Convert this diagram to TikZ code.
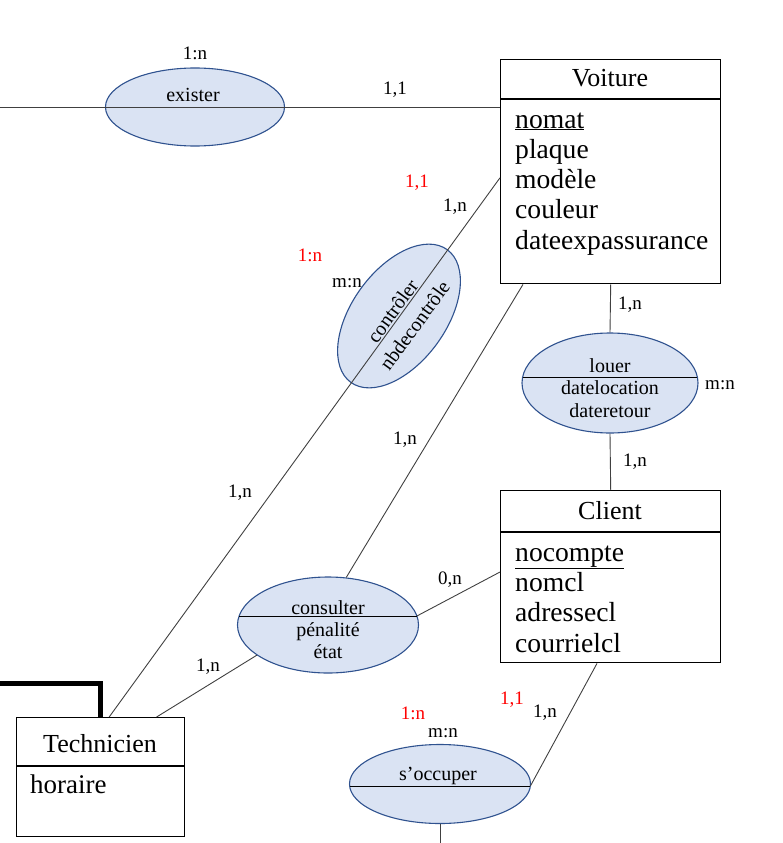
\documentclass[tikz,border=0pt]{standalone}
\usepackage{fontspec}
\setmainfont{Liberation Serif}
\usetikzlibrary{shapes.geometric,calc}
\definecolor{ellF}{HTML}{DAE3F3}
\definecolor{ellB}{HTML}{2F528F}
\definecolor{lnkC}{HTML}{404040}
\begin{document}
\begin{tikzpicture}[x=1pt,y=-1pt,
 ent/.style={draw=black, line width=1.4pt, inner sep=0pt, fill=white},
 assoc/.style={ellipse, draw=ellB, line width=1.1pt, fill=ellF, inner sep=0pt},
 lnk/.style={draw=lnkC, line width=0.9pt},
 chord/.style={draw=black, line width=0.9pt},
 ttl/.style={font=\fontsize{26}{28}\selectfont, anchor=base, inner sep=0pt},
 attr/.style={font=\fontsize{27.6}{29}\selectfont, anchor=base west, inner sep=0pt},
 etxt/.style={font=\fontsize{20}{22}\selectfont, anchor=base, inner sep=0pt},
 rtxt/.style={font=\fontsize{20}{22}\selectfont, inner sep=0pt, rotate=54},
 card/.style={font=\fontsize{19}{20}\selectfont, inner sep=0pt},
 cardr/.style={card, text=red}]
\useasboundingbox (0,0) rectangle (783,843);

% entities
\node[ent, minimum width=220pt, minimum height=224pt, anchor=north west] (voiture) at (500,59) {};
\node[ent, minimum width=220pt, minimum height=172pt, anchor=north west] (client) at (500,490) {};
\node[ent, minimum width=168pt, minimum height=119pt, anchor=north west] (tech) at (16,717) {};
\draw[line width=1.4pt] ($(voiture.north west)+(0,40)$) -- ($(voiture.north east)+(0,40)$);
\draw[line width=1.4pt] ($(client.north west)+(0,42)$) -- ($(client.north east)+(0,42)$);
\draw[line width=1.4pt] ($(tech.north west)+(0,49)$) -- ($(tech.north east)+(0,49)$);

% associations
\node[assoc, minimum width=179pt, minimum height=78pt] (ex) at (195,107) {};
\node[assoc, minimum width=164pt, minimum height=94pt, rotate=54] (ct) at (399,316) {};
\node[assoc, minimum width=176pt, minimum height=100pt] (lo) at (610,383) {};
\node[assoc, minimum width=181pt, minimum height=96pt] (cons) at (328,625) {};
\node[assoc, minimum width=181pt, minimum height=79pt] (so) at (440,784) {};

% chords
\draw[chord] ($(lo.center)+(-87.4,-6)$) coordinate (lo1) -- ($(lo.center)+(87.4,-6)$) coordinate (lo2);
\draw[chord] ($(cons.center)+(-88.9,-9)$) coordinate (cs1) -- ($(cons.center)+(88.9,-9)$) coordinate (cs2);
\draw[chord] ($(so.center)+(-90.4,2)$) coordinate (so1) -- ($(so.center)+(90.4,2)$) coordinate (so2);

% connectors
\coordinate (L0) at (0,107);
\coordinate (T0) at (0,683);
\coordinate (B0) at (440,843);
\draw[lnk] (L0) -- (voiture.west |- L0);
\draw[lnk] ($(voiture.north west)!0.527!(voiture.south west)$) -- ($(tech.north west)!0.55!(tech.north east)$);
\draw[lnk] (voiture.south) -- (lo.north);
\draw[lnk] (lo.south) -- (client.north);
\draw[lnk] (cons.69) -- ($(voiture.south west)+(23,0)$);
\draw[lnk] (cs2) -- ($(client.north west)+(0,82)$);
\draw[lnk] ($(tech.north west)!0.83!(tech.north east)$) -- (cons.203);
\draw[lnk] (so2) -- ($(client.south west)+(97,0)$);
\draw[lnk] (so.south) -- (B0);
\draw[line width=5pt] (T0) -- (tech.north |- T0) -- (tech.north);

% entity texts
\node[ttl] (vT) at (610,86) {Voiture};
\node[attr] (v1) at (515,128) {\underline{nomat}};
\node[attr] (v2) at (515,158) {plaque};
\node[attr] (v3) at (515,188.5) {modèle};
\node[attr] (v4) at (515,218.5) {couleur};
\node[attr] (v5) at (515,249) {dateexpassurance};
\node[ttl] (cT) at (610,519) {Client};
\node[attr] (c1) at (515,561) {\underline{nocompte}};
\node[attr] (c2) at (515,591) {nomcl};
\node[attr] (c3) at (515,621.5) {adressecl};
\node[attr] (c4) at (515,652) {courrielcl};
\node[ttl] (tT) at (100,752) {Technicien};
\node[attr, font=\fontsize{27}{29}\selectfont] (t1) at (30,793) {horaire};

% association texts
\node[etxt] (exT) at (193,101) {exister};
\node[rtxt] (ctT1) at (392.5,311) {contrôler};
\node[rtxt] (ctT2) at (414.5,325.5) {nbdecontrôle};
\node[etxt] (loT1) at (610,372) {louer};
\node[etxt] (loT2) at (610,394) {datelocation};
\node[etxt] (loT3) at (610,417) {dateretour};
\node[etxt] (csT1) at (328,614) {consulter};
\node[etxt] (csT2) at (328,636) {pénalité};
\node[etxt] (csT3) at (328,658) {état};
\node[etxt] (soT) at (438,780) {s’occuper};

% cardinalities
\node[card] (k1) at (195,53) {1:n};
\node[card] (k2) at (395,90) {1,1};
\node[cardr] (k3) at (417,183) {1,1};
\node[card] (k4) at (455,207) {1,n};
\node[cardr] (k5) at (310,255) {1:n};
\node[card] (k6) at (347,283) {m:n};
\node[card] (k7) at (630,305) {1,n};
\node[card] (k8) at (720,385) {m:n};
\node[card] (k9) at (635,462) {1,n};
\node[card] (k10) at (405,440) {1,n};
\node[card] (k11) at (240,493) {1,n};
\node[card] (k12) at (450,580) {0,n};
\node[card] (k13) at (208,667) {1,n};
\node[cardr] (k14) at (413,713) {1:n};
\node[card] (k15) at (443,733) {m:n};
\node[cardr] (k16) at (512,700) {1,1};
\node[card] (k17) at (545,713) {1,n};
\end{tikzpicture}
\end{document}
